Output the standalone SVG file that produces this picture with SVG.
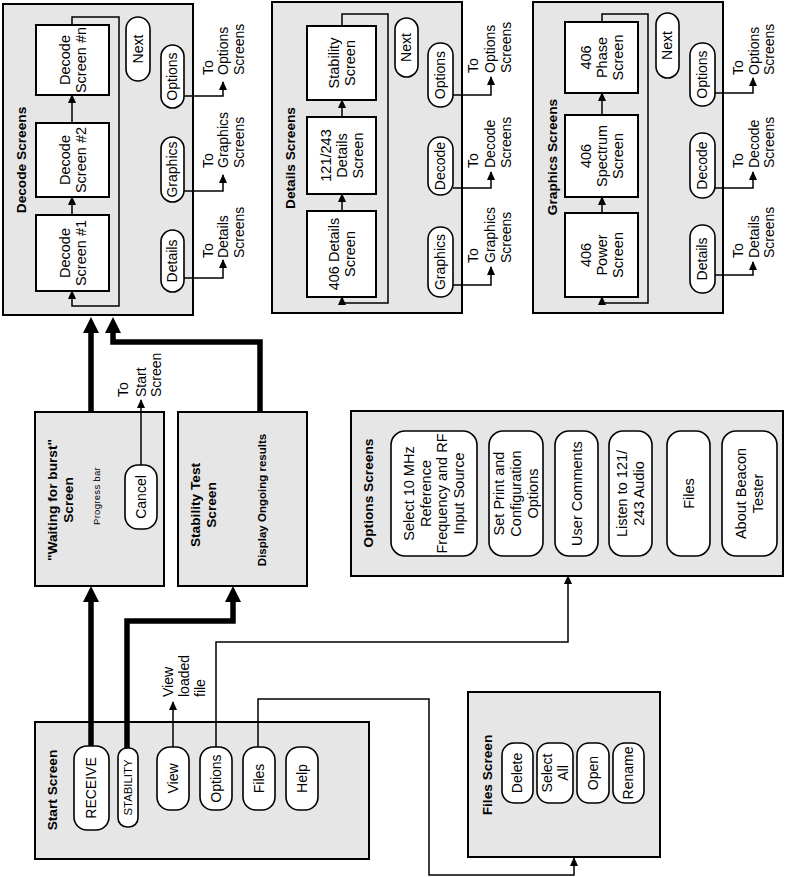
<svg xmlns="http://www.w3.org/2000/svg" width="787" height="877" viewBox="0 0 787 877">
<defs>
<style>
.panel{fill:#e6e6e6;stroke:#000;stroke-width:2}
.box{fill:#fff;stroke:#000;stroke-width:2}
.btn{fill:#fff;stroke:#000;stroke-width:1.6}
text{font-family:"Liberation Sans",Arial,sans-serif;font-size:14px;fill:#000}
.c{text-anchor:middle}
.s{text-anchor:start}
.b{font-weight:bold;font-size:13.7px}
.bt{font-size:14.5px}
.ln{fill:none;stroke:#000;stroke-width:1.5}
.th{fill:none;stroke:#000;stroke-width:5.5}
.a{marker-end:url(#ar)}
.ta{marker-end:url(#tar)}
</style>
<marker id="ar" viewBox="0 0 10 10" refX="9" refY="5" markerWidth="9" markerHeight="9" markerUnits="userSpaceOnUse" orient="auto"><path d="M0,0.5 L10,5 L0,9.5 z" fill="#000"/></marker>
<marker id="tar" viewBox="0 0 16 16" refX="1" refY="8" markerWidth="16" markerHeight="16" markerUnits="userSpaceOnUse" orient="auto"><path d="M0,0 L16,8 L0,16 z" fill="#000"/></marker>
</defs>
<rect width="787" height="877" fill="#fff"/>

<!-- Decode Screens -->
<g id="decode-screens">
<rect class="panel" x="3" y="4" width="190" height="311"/>
<text class="c b" transform="translate(21,160) rotate(-90)" y="4.8">Decode Screens</text>
<g id="decode1"><rect class="box" x="36" y="215" width="73" height="76"/>
<text class="c bt" transform="translate(72.5,253) rotate(-90)"><tspan x="0" y="-2.9">Decode</tspan><tspan x="0" y="13.1">Screen #1</tspan></text></g>
<g id="decode2"><rect class="box" x="36" y="123" width="73" height="74"/>
<text class="c bt" transform="translate(72.5,160) rotate(-90)"><tspan x="0" y="-2.9">Decode</tspan><tspan x="0" y="13.1">Screen #2</tspan></text></g>
<g id="decoden"><rect class="box" x="36" y="25" width="73" height="70"/>
<text class="c bt" transform="translate(72.5,60) rotate(-90)"><tspan x="0" y="-2.9">Decode</tspan><tspan x="0" y="13.1">Screen #n</tspan></text></g>
<g id="decode-next"><rect class="btn" x="126" y="17" width="24" height="64" rx="12"/>
<text class="c" transform="translate(138,49) rotate(-90)" y="4.9">Next</text></g>
<g id="decode-options"><rect class="btn" x="161" y="45" width="23" height="63" rx="11.5"/>
<text class="c" transform="translate(172.5,76.5) rotate(-90)" y="4.9">Options</text></g>
<g id="decode-graphics"><rect class="btn" x="161" y="137" width="23" height="65" rx="11.5"/>
<text class="c" transform="translate(172.5,169.5) rotate(-90)" y="4.9">Graphics</text></g>
<g id="decode-details"><rect class="btn" x="161" y="230" width="23" height="62" rx="11.5"/>
<text class="c" transform="translate(172.5,261) rotate(-90)" y="4.9">Details</text></g>
</g>

<!-- Details Screens -->
<g id="details-screens">
<rect class="panel" x="272" y="2" width="190" height="311"/>
<text class="c b" transform="translate(290,158) rotate(-90)" y="4.8">Details Screens</text>
<g id="details406"><rect class="box" x="307" y="211" width="69" height="86"/>
<text class="c bt" transform="translate(341.5,254) rotate(-90)"><tspan x="0" y="-2.9">406 Details</tspan><tspan x="0" y="13.1">Screen</tspan></text></g>
<g id="details121"><rect class="box" x="307" y="117" width="69" height="77"/>
<text class="c bt" transform="translate(341.5,155.5) rotate(-90)"><tspan x="0" y="-10.9">121/243</tspan><tspan x="0" y="5.1">Details</tspan><tspan x="0" y="21.1">Screen</tspan></text></g>
<g id="details-stability"><rect class="box" x="307" y="26" width="69" height="74"/>
<text class="c bt" transform="translate(341.5,63) rotate(-90)"><tspan x="0" y="-2.9">Stability</tspan><tspan x="0" y="13.1">Screen</tspan></text></g>
<g id="details-next"><rect class="btn" x="395" y="18" width="23" height="59" rx="11.5"/>
<text class="c" transform="translate(406.5,47.5) rotate(-90)" y="4.9">Next</text></g>
<g id="details-options"><rect class="btn" x="428" y="43" width="25" height="64" rx="12"/>
<text class="c" transform="translate(440.5,75) rotate(-90)" y="4.9">Options</text></g>
<g id="details-decode"><rect class="btn" x="428" y="137" width="25" height="58" rx="12"/>
<text class="c" transform="translate(440.5,166) rotate(-90)" y="4.9">Decode</text></g>
<g id="details-graphics"><rect class="btn" x="428" y="227" width="25" height="70" rx="12"/>
<text class="c" transform="translate(440.5,262) rotate(-90)" y="4.9">Graphics</text></g>
</g>

<!-- Graphics Screens -->
<g id="graphics-screens">
<rect class="panel" x="533" y="2" width="190" height="311"/>
<text class="c b" transform="translate(552,157) rotate(-90)" y="4.8">Graphics Screens</text>
<g id="graphics-power"><rect class="box" x="565" y="213" width="73" height="84"/>
<text class="c bt" transform="translate(601.5,255) rotate(-90)"><tspan x="0" y="-10.9">406</tspan><tspan x="0" y="5.1">Power</tspan><tspan x="0" y="21.1">Screen</tspan></text></g>
<g id="graphics-spectrum"><rect class="box" x="565" y="115" width="73" height="82"/>
<text class="c bt" transform="translate(601.5,156) rotate(-90)"><tspan x="0" y="-10.9">406</tspan><tspan x="0" y="5.1">Spectrum</tspan><tspan x="0" y="21.1">Screen</tspan></text></g>
<g id="graphics-phase"><rect class="box" x="565" y="22" width="73" height="71"/>
<text class="c bt" transform="translate(601.5,57.5) rotate(-90)"><tspan x="0" y="-10.9">406</tspan><tspan x="0" y="5.1">Phase</tspan><tspan x="0" y="21.1">Screen</tspan></text></g>
<g id="graphics-next"><rect class="btn" x="656" y="13" width="23" height="65" rx="11.5"/>
<text class="c" transform="translate(667.5,45.5) rotate(-90)" y="4.9">Next</text></g>
<g id="graphics-options"><rect class="btn" x="690" y="43" width="25" height="63" rx="12"/>
<text class="c" transform="translate(702.5,74.5) rotate(-90)" y="4.9">Options</text></g>
<g id="graphics-decode"><rect class="btn" x="690" y="133" width="25" height="65" rx="12"/>
<text class="c" transform="translate(702.5,165.5) rotate(-90)" y="4.9">Decode</text></g>
<g id="graphics-details"><rect class="btn" x="690" y="225" width="25" height="68" rx="12"/>
<text class="c" transform="translate(702.5,259) rotate(-90)" y="4.9">Details</text></g>
</g>

<!-- Waiting for burst -->
<g id="waiting-screen">
<rect class="panel" x="35" y="412" width="129" height="174"/>
<text class="c b" transform="translate(60.5,500) rotate(-90)"><tspan x="0" y="-3.2">"Waiting for burst"</tspan><tspan x="0" y="12.8">Screen</tspan></text>
<text class="c" style="font-size:9.5px;letter-spacing:0.3px" transform="translate(97,496) rotate(-90)" y="3.3">Progress bar</text>
<g id="cancel"><rect class="btn" x="125" y="465" width="32" height="64" rx="13"/>
<text class="c" transform="translate(141,497) rotate(-90)" y="4.9">Cancel</text></g>
</g>

<!-- Stability Test -->
<g id="stability-screen">
<rect class="panel" x="178" y="412" width="129" height="174"/>
<text class="c b" transform="translate(203.5,505) rotate(-90)"><tspan x="0" y="-3.2">Stability Test</tspan><tspan x="0" y="12.8">Screen</tspan></text>
<text class="c b" style="font-size:11.5px" transform="translate(262,500) rotate(-90)" y="4">Display Ongoing results</text>
</g>

<!-- Options Screens -->
<g id="options-screens">
<rect class="panel" x="351" y="411" width="432" height="165"/>
<text class="c b" transform="translate(368,493) rotate(-90)" y="4.8">Options Screens</text>
<g id="opt-select"><rect class="btn" x="391" y="431" width="86" height="125" rx="14"/>
<text class="c" style="font-size:14.5px" transform="translate(434,493.5) rotate(-90)"><tspan x="0" y="-20">Select 10 MHz</tspan><tspan x="0" y="-3.3">Reference</tspan><tspan x="0" y="13.4">Frequency and RF</tspan><tspan x="0" y="30.1">Input Source</tspan></text></g>
<g id="opt-print"><rect class="btn" x="489" y="431" width="54" height="125" rx="14"/>
<text class="c" style="font-size:14.5px" transform="translate(516,493.5) rotate(-90)"><tspan x="0" y="-12">Set Print and</tspan><tspan x="0" y="5">Configuration</tspan><tspan x="0" y="22">Options</tspan></text></g>
<g id="opt-comments"><rect class="btn" x="555" y="431" width="43" height="125" rx="14"/>
<text class="c" style="font-size:14.5px" transform="translate(576.5,493.5) rotate(-90)" y="5">User Comments</text></g>
<g id="opt-listen"><rect class="btn" x="609" y="431" width="43" height="125" rx="14"/>
<text class="c" style="font-size:14.5px" transform="translate(630.5,493.5) rotate(-90)"><tspan x="0" y="-3.5">Listen to 121/</tspan><tspan x="0" y="13.5">243 Audio</tspan></text></g>
<g id="opt-files"><rect class="btn" x="667" y="431" width="43" height="125" rx="14"/>
<text class="c" style="font-size:14.5px" transform="translate(688.5,493.5) rotate(-90)" y="5">Files</text></g>
<g id="opt-about"><rect class="btn" x="722" y="431" width="55" height="125" rx="14"/>
<text class="c" style="font-size:14.5px" transform="translate(749.5,493.5) rotate(-90)"><tspan x="0" y="-3.5">About Beacon</tspan><tspan x="0" y="13.5">Tester</tspan></text></g>
</g>

<!-- Start Screen -->
<g id="start-screen">
<rect class="panel" x="35" y="722" width="334" height="137"/>
<text class="c b" transform="translate(52,790) rotate(-90)" y="4.8">Start Screen</text>
<g id="start-receive"><rect class="btn" x="74" y="746" width="35" height="84" rx="13"/>
<text class="c" transform="translate(91.5,788) rotate(-90)" y="4.9">RECEIVE</text></g>
<g id="start-stability"><rect class="btn" x="118" y="748" width="20" height="79" rx="9"/>
<text class="c" style="font-size:11.4px" transform="translate(128,787.5) rotate(-90)" y="4">STABILITY</text></g>
<g id="start-view"><rect class="btn" x="157" y="747" width="32" height="63" rx="13"/>
<text class="c" transform="translate(173,778.5) rotate(-90)" y="4.9">View</text></g>
<g id="start-options"><rect class="btn" x="200" y="747" width="32" height="63" rx="13"/>
<text class="c" transform="translate(216,778.5) rotate(-90)" y="4.9">Options</text></g>
<g id="start-files"><rect class="btn" x="243" y="747" width="32" height="63" rx="13"/>
<text class="c" transform="translate(259,778.5) rotate(-90)" y="4.9">Files</text></g>
<g id="start-help"><rect class="btn" x="286" y="747" width="32" height="63" rx="13"/>
<text class="c" transform="translate(302,778.5) rotate(-90)" y="4.9">Help</text></g>
</g>

<!-- Files Screen -->
<g id="files-screen">
<rect class="panel" x="468" y="692" width="192" height="165"/>
<text class="c b" transform="translate(487,775) rotate(-90)" y="4.8">Files Screen</text>
<g id="files-delete"><rect class="btn" x="502" y="743" width="31" height="60" rx="12"/>
<text class="c" transform="translate(517.5,773) rotate(-90)" y="4.9">Delete</text></g>
<g id="files-selectall"><rect class="btn" x="537" y="743" width="36" height="60" rx="12"/>
<text class="c" transform="translate(555,773) rotate(-90)"><tspan x="0" y="-3.1">Select</tspan><tspan x="0" y="12.9">All</tspan></text></g>
<g id="files-open"><rect class="btn" x="577" y="743" width="32" height="60" rx="12"/>
<text class="c" transform="translate(593,773) rotate(-90)" y="4.9">Open</text></g>
<g id="files-rename"><rect class="btn" x="613" y="743" width="31" height="60" rx="12"/>
<text class="c" transform="translate(628.5,773) rotate(-90)" y="4.9">Rename</text></g>
</g>

<!-- Connectors -->
<g id="connectors">
<path class="ln a" d="M72,215 V197"/>
<path class="ln a" d="M72,123 V95"/>
<path class="ln a" d="M72,25 V17 H119 V306 H72 V291"/>
<path class="ln a" d="M184,96 H223 V82"/>
<path class="ln a" d="M184,191 H223 V175"/>
<path class="ln a" d="M184,278 H223 V260"/>

<path class="ln a" d="M342,211 V194"/>
<path class="ln a" d="M342,117 V100"/>
<path class="ln a" d="M342,26 V14 H388 V303 H342 V297"/>
<path class="ln a" d="M453,95 H491 V77"/>
<path class="ln a" d="M453,188 H491 V172"/>
<path class="ln a" d="M453,285 H491 V267"/>

<path class="ln a" d="M602,213 V197"/>
<path class="ln a" d="M602,115 V93"/>
<path class="ln a" d="M602,22 V14 H648 V303 H602 V297"/>
<path class="ln a" d="M715,93 H753 V78"/>
<path class="ln a" d="M715,188 H753 V172"/>
<path class="ln a" d="M715,275 H753 V262"/>

<path class="th ta" d="M91,412 V332"/>
<path class="th ta" d="M260,412 V342 H113 V332"/>
<path class="ln a" d="M141,465 V400"/>

<path class="th ta" d="M91,746 V601"/>
<path class="th ta" d="M127,748 V621 H233 V601"/>
<path class="ln a" d="M173,747 V702"/>
<path class="ln a" d="M216,747 V642 H568 V576"/>
<path class="ln a" d="M258,747 V699 H429 V875 H574 V858"/>
</g>

<!-- Connector labels -->
<g id="labels">
<text class="s" transform="translate(223.5,75) rotate(-90)"><tspan x="0" y="-10.6">To</tspan><tspan x="0" y="4.9">Options</tspan><tspan x="0" y="20.4">Screens</tspan></text>
<text class="s" transform="translate(223.5,168) rotate(-90)"><tspan x="0" y="-10.6">To</tspan><tspan x="0" y="4.9">Graphics</tspan><tspan x="0" y="20.4">Screens</tspan></text>
<text class="s" transform="translate(223.5,258) rotate(-90)"><tspan x="0" y="-10.6">To</tspan><tspan x="0" y="4.9">Details</tspan><tspan x="0" y="20.4">Screens</tspan></text>

<text class="s" transform="translate(490,73) rotate(-90)"><tspan x="0" y="-11.6">To</tspan><tspan x="0" y="4.9">Options</tspan><tspan x="0" y="21.4">Screens</tspan></text>
<text class="s" transform="translate(490,168) rotate(-90)"><tspan x="0" y="-11.6">To</tspan><tspan x="0" y="4.9">Decode</tspan><tspan x="0" y="21.4">Screens</tspan></text>
<text class="s" transform="translate(490,263) rotate(-90)"><tspan x="0" y="-11.6">To</tspan><tspan x="0" y="4.9">Graphics</tspan><tspan x="0" y="21.4">Screens</tspan></text>

<text class="s" transform="translate(754,75) rotate(-90)"><tspan x="0" y="-11.1">To</tspan><tspan x="0" y="4.9">Options</tspan><tspan x="0" y="19.9">Screens</tspan></text>
<text class="s" transform="translate(754,168) rotate(-90)"><tspan x="0" y="-11.1">To</tspan><tspan x="0" y="4.9">Decode</tspan><tspan x="0" y="19.9">Screens</tspan></text>
<text class="s" transform="translate(754,258) rotate(-90)"><tspan x="0" y="-11.1">To</tspan><tspan x="0" y="4.9">Details</tspan><tspan x="0" y="19.9">Screens</tspan></text>

<text class="s" transform="translate(141,397) rotate(-90)"><tspan x="0" y="-13.1">To</tspan><tspan x="0" y="4.9">Start</tspan><tspan x="0" y="20.4">Screen</tspan></text>
<text class="s" transform="translate(184,697) rotate(-90)"><tspan x="0" y="-11.1">View</tspan><tspan x="0" y="4.9">loaded</tspan><tspan x="0" y="20.9">file</tspan></text>
</g>
</svg>
